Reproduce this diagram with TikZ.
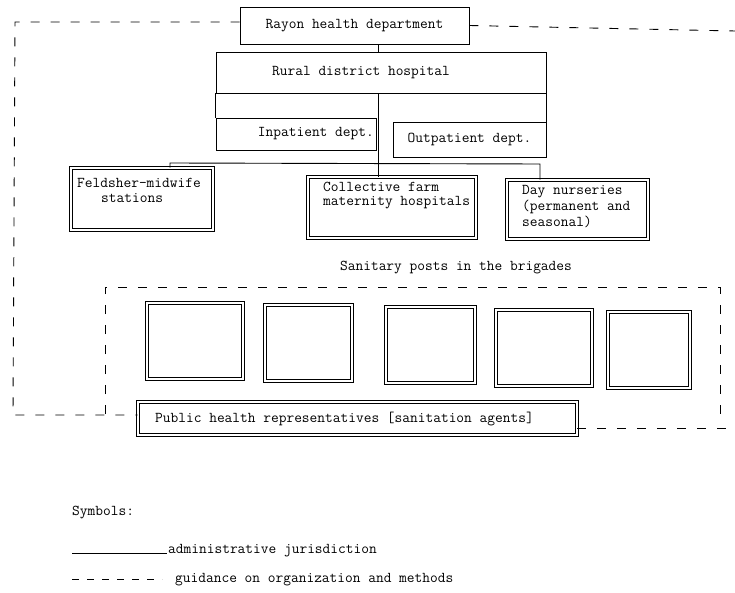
\documentclass[tikz,border=0pt]{standalone}
\usepackage{fontspec}
\begin{document}
\begin{tikzpicture}[x=1pt,y=-1pt,
  txt/.style={font=\ttfamily\fontsize{15}{16}\selectfont, inner sep=0pt, align=left},
  plainbox/.style={draw, line width=0.9pt, rectangle, inner sep=0pt},
  framebox/.style={draw, line width=0.8pt, double distance=1.8pt, rectangle, inner sep=0pt},
  postbox/.style={framebox, minimum height=76pt},
  rule/.style={line width=0.9pt},
  guide/.style={line width=0.9pt, dash pattern=on 9pt off 11pt},
]
\useasboundingbox (0,0) rectangle (735,593);

% --- administration ---
\node[plainbox, minimum width=229pt, minimum height=37pt] (rayon) at (354.5,25.5) {};
\node[txt] (rayonT) at (rayon.center) {Rayon health department};

\node[plainbox, minimum width=330pt, minimum height=41pt] (hosp) at (381,72.5) {};
\node[txt] (hospT) at (361,73) {Rural district hospital};

\node[plainbox, minimum width=160pt, minimum height=32pt] (inpat) at (296,134) {};
\node[txt, anchor=east] (inpatT) at (374,134) {Inpatient dept.};
\node[plainbox, minimum width=153pt, minimum height=35pt] (outpat) at (469.5,139.5) {};
\node[txt] (outpatT) at (outpat.center) {Outpatient dept.};

% side walls joining the hospital to its departments
\draw[rule] (hosp.south west) -- (inpat.north west);
\draw[rule] (hosp.south east) -- (outpat.north east);

% --- institutions under the hospital ---
\node[framebox, minimum width=142pt, minimum height=62pt] (feld) at (142,199) {};
\node[txt, anchor=west] (feldT1) at (77,183) {Feldsher-midwife};
\node[txt, anchor=west] (feldT2) at (101,198) {stations};

\node[framebox, minimum width=168pt, minimum height=61pt] (coll) at (392,207.5) {};
\node[txt, anchor=west] (collT1) at (323,187) {Collective farm};
\node[txt, anchor=west] (collT2) at (323,203) {maternity hospitals};

\node[framebox, minimum width=141pt, minimum height=59pt] (day) at (577.5,209.5) {};
\node[txt, anchor=west] (dayT1) at (522,192) {Day nurseries};
\node[txt, anchor=west] (dayT2) at (522,207) {(permanent and};
\node[txt, anchor=west] (dayT3) at (522,222) {seasonal)};

% --- administrative connectors ---
\coordinate (spine) at (378,0);
\coordinate (busL) at (170,163);
\coordinate (busR) at (540,164);
\draw[rule] (rayon.south -| spine) -- (hosp.north -| spine);
\draw[rule] (hosp.south -| spine) -- (coll.north -| spine);
\draw[rule] (feld.north -| busL) -- (busL) -- (busR) -- (day.north -| busR);

% --- sanitary posts ---
\node[txt] (sanT) at (456,268) {Sanitary posts in the brigades};
\node[postbox, minimum width=96pt] (p1) at (195,341) {};
\node[postbox, minimum width=87pt] (p2) at (308.5,343) {};
\node[postbox, minimum width=89pt] (p3) at (430.5,345) {};
\node[postbox, minimum width=96pt] (p4) at (544,348) {};
\node[postbox, minimum width=82pt] (p5) at (649,350) {};

\node[framebox, minimum width=439pt, minimum height=33pt] (pub) at (357.5,418.5) {};
\node[txt, anchor=west] (pubT) at (155,419) {Public health representatives [sanitation agents]};

% --- guidance lines ---
\coordinate (tl) at (15,22);
\coordinate (bl) at (13,415);
\coordinate (tr) at (735,31);
\coordinate (br) at (735,428);
\draw[guide] (rayon.west |- tl) -- (tl) -- (bl) -- (bl -| pub.west);
\draw[guide] (rayon.east) -- (tr);
\draw[guide] (pub.east |- br) -- (br);
\draw[guide] (105,414) -- (105,287) -- (720,287) -- (720,416);

% --- legend ---
\node[txt, anchor=west] (symT) at (72,513) {Symbols:};
\coordinate (solidA) at (72,553);
\coordinate (solidB) at (167,553);
\draw[rule] (solidA) -- (solidB);
\node[txt, anchor=base west] (adminT) at (168,553) {administrative jurisdiction};
\coordinate (dashA) at (72,579);
\coordinate (dashB) at (162,579);
\draw[line width=0.9pt, dash pattern=on 7pt off 8pt] (dashA) -- (dashB);
\node[txt, anchor=west] (guideT) at (175,580) {guidance on organization and methods};
\end{tikzpicture}
\end{document}
